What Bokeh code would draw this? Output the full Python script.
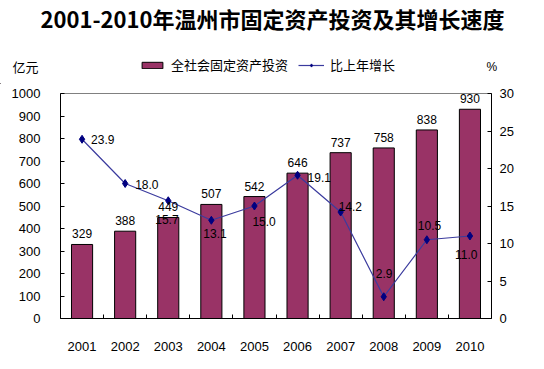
from bokeh.plotting import figure
from bokeh.layouts import column
from bokeh.models import (ColumnDataSource, Range1d, LinearAxis, FixedTicker, Legend,
                          LegendItem, LabelSet, Label)
from bokeh.core.properties import value
from bokeh.embed import file_html
from bokeh.resources import INLINE

# ---- data ----
years = [2001, 2002, 2003, 2004, 2005, 2006, 2007, 2008, 2009, 2010]
investment = [329, 388, 449, 507, 542, 646, 737, 758, 838, 930]   # 亿元
growth = [23.9, 18.0, 15.7, 13.1, 15.0, 19.1, 14.2, 2.9, 10.5, 11.0]  # %
left_ticks = [0, 100, 200, 300, 400, 500, 600, 700, 800, 900, 1000]
right_ticks = [0, 5, 10, 15, 20, 25, 30]
title_text = "2001-2010年温州市固定资产投资及其增长速度"
bar_name = "全社会固定资产投资"
line_name = "比上年增长"

BAR_FILL = "#993366"
LINE_COL = "#3b3b9e"
MARK_COL = "#000080"
font = "Liberation Sans"
cjk = "Noto Sans CJK SC"

# ---- layout (screen px) ----
W = 528
HH = 84                      # header height
H = 269                      # main chart height
BL, BR, BT, BB = 60, 37, 9, 32
X0, X1 = 2000.5, 2010.5

# offsets of growth labels (screen px)
g_dx = [9, 10, -13, -8, -2, 10, -2, -8, -9, -15]
g_dy = [0, -1, -19, -13, -15, -2, 6, 23, 14, -18]

src = ColumnDataSource(dict(
    x=years, inv=investment, g=growth,
    inv_txt=[str(v) for v in investment],
    g_txt=[f"{v:.1f}" for v in growth],
    gdx=g_dx, gdy=g_dy,
))

# ================= header (title, legend, units) =================
hd = figure(width=W, height=HH, output_backend="svg", toolbar_location=None,
            x_range=Range1d(0, W), y_range=Range1d(0, HH),
            x_axis_type=None, y_axis_type=None,
            min_border_left=0, min_border_right=0, min_border_top=0, min_border_bottom=0)
hd.frame_align = False
hd.title.text = ""
hd.outline_line_color = None
hd.xgrid.visible = False
hd.ygrid.visible = False
hd.background_fill_color = "white"
hd.border_fill_color = "white"

# legend-only renderers, placed outside the visible header range
dummy_bar = hd.vbar(x=[-100], top=[1], width=1, fill_color=BAR_FILL, line_color="black", line_width=1)
dummy_line = hd.line(x=[-100, -99], y=[0, 0], line_color=LINE_COL, line_width=1.2)
dummy_pts = hd.scatter(x=[-100], y=[0], marker="diamond", size=8, fill_color=MARK_COL, line_color=MARK_COL)

legend = Legend(items=[LegendItem(label=bar_name, renderers=[dummy_bar]),
                       LegendItem(label=line_name, renderers=[dummy_line, dummy_pts])],
                orientation="horizontal", location=(139, 10), padding=0, spacing=10, margin=0,
                border_line_color=None, background_fill_alpha=0,
                glyph_width=26, glyph_height=8, label_standoff=6, label_height=14,
                label_text_font=cjk, label_text_font_size="13px",
                label_text_color="black")
hd.add_layout(legend)

hd.add_layout(Label(x=272, y=HH - 17, text=title_text, text_align="center",
                    text_baseline="middle", text_font=cjk,
                    text_font_size="22px", text_font_style="bold", text_color="black"))
hd.add_layout(Label(x=12, y=HH - 66, text="亿元", text_align="left",
                    text_baseline="middle", text_font=cjk,
                    text_font_size="13px", text_color="black"))
hd.add_layout(Label(x=486, y=HH - 66, text="%", text_align="left",
                    text_baseline="middle", text_font=font,
                    text_font_size="12px", text_color="black"))

# ================= main chart =================
p = figure(width=W, height=H, output_backend="svg", toolbar_location=None,
           x_range=Range1d(X0, X1), y_range=Range1d(0, 1000),
           min_border_left=BL, min_border_right=BR, min_border_top=BT, min_border_bottom=BB)
p.frame_align = False
p.title.text = ""
p.background_fill_color = "white"
p.border_fill_color = "white"
p.outline_line_color = "#808080"
p.xgrid.visible = False
p.ygrid.visible = False
p.extra_y_ranges = {"pct": Range1d(0, 30)}

# bottom axis
xa = p.xaxis[0]
xa.ticker = FixedTicker(ticks=years, minor_ticks=[y + 0.5 for y in years[:-1]])
xa.major_tick_line_color = None
xa.minor_tick_in = 4
xa.minor_tick_out = 0
xa.minor_tick_line_color = "black"
xa.axis_line_color = "black"
xa.major_label_standoff = 17
xa.major_label_text_font = font
xa.major_label_text_font_size = "13px"
xa.major_label_text_color = "black"

# left axis
ya = p.yaxis[0]
ya.ticker = FixedTicker(ticks=left_ticks)
ya.major_tick_in = 4
ya.major_tick_out = 0
ya.minor_tick_line_color = None
ya.axis_line_color = "black"
ya.major_tick_line_color = "black"
ya.major_label_standoff = 20
ya.major_label_text_font = font
ya.major_label_text_font_size = "13px"
ya.major_label_text_color = "black"

# right axis
ra = LinearAxis(y_range_name="pct", ticker=FixedTicker(ticks=right_ticks))
ra.major_tick_in = 4
ra.major_tick_out = 0
ra.minor_tick_line_color = None
ra.axis_line_color = "black"
ra.major_tick_line_color = "black"
ra.major_label_standoff = 8
ra.major_label_text_font = font
ra.major_label_text_font_size = "13px"
ra.major_label_text_color = "black"
p.add_layout(ra, "right")

bars = p.vbar(x="x", top="inv", width=0.49, bottom=0, source=src,
              fill_color=BAR_FILL, line_color="black", line_width=1)
line = p.line(x="x", y="g", source=src, y_range_name="pct", line_color=LINE_COL, line_width=1.2)
pts = p.scatter(x="x", y="g", source=src, y_range_name="pct", marker="diamond",
                size=8, fill_color=MARK_COL, line_color=MARK_COL)

p.add_layout(LabelSet(x="x", y="inv", text="inv_txt", source=src, y_offset=6,
                      text_align="center", text_baseline="bottom",
                      text_font=value(font), text_font_size=value("12px"), text_color="black"))
p.add_layout(LabelSet(x="x", y="g", text="g_txt", source=src, y_range_name="pct",
                      x_offset="gdx", y_offset="gdy",
                      text_align="left", text_baseline="middle",
                      text_font=value(font), text_font_size=value("12px"), text_color="black"))

layout = column(hd, p, spacing=0)
open("out.html", "w").write(file_html(layout, INLINE))
